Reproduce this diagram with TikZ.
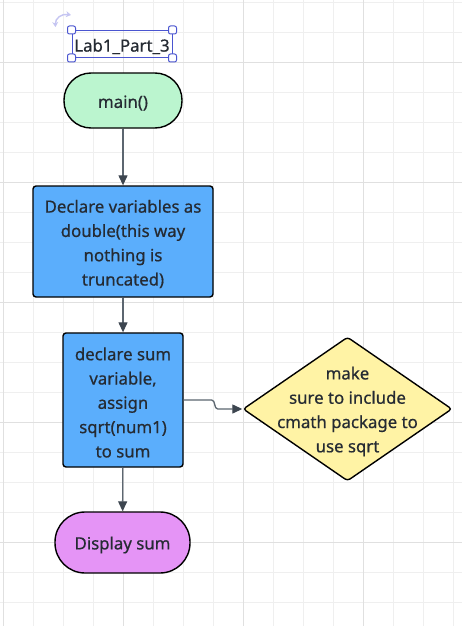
\documentclass[tikz,border=0pt]{standalone}
\usepackage{fontspec}
\setmainfont{Noto Sans}
\newfontfamily\medfont{Noto Sans}[FakeBold=0.6]
\usetikzlibrary{shapes.geometric,arrows.meta}
\definecolor{gridminor}{HTML}{EFEFEF}
\definecolor{gridmajor}{HTML}{E0E0E0}
\definecolor{mintfill}{HTML}{BBF5CF}
\definecolor{bluefill}{HTML}{5BAEFC}
\definecolor{yellowfill}{HTML}{FFF3A5}
\definecolor{purplefill}{HTML}{E594F6}
\definecolor{selblue}{HTML}{4A55D0}
\definecolor{rotlav}{HTML}{C5C5F2}
\definecolor{linegray}{HTML}{5C6670}
\definecolor{tipgray}{HTML}{3D4650}
\definecolor{txt}{HTML}{252B33}
\tikzset{
  lbl/.style={font=\medfont\fontsize{16.8}{24.3}\selectfont, text=txt, align=center, inner sep=0pt},
  inner/.style={lbl, yshift=-2.5pt},
  shapebase/.style={draw=black, line width=1.4pt, inner sep=0pt},
  terminal/.style={shapebase, rounded corners=27pt, minimum width=118pt, minimum height=55pt},
  process/.style={shapebase, fill=bluefill, rounded corners=3pt},
  decision/.style={shapebase, fill=yellowfill, diamond, rounded corners=3pt, minimum width=209pt, minimum height=144pt},
  flow/.style={draw=linegray, line width=1.3pt, -{Triangle[length=10pt,width=9pt,fill=tipgray,color=tipgray]}},
  handle/.style={draw=selblue, fill=white, line width=1pt, rounded corners=2pt, minimum size=8pt, inner sep=0pt},
}
\begin{document}
\begin{tikzpicture}[x=1pt,y=-1pt]
\useasboundingbox (0,0) rectangle (462,626);
\fill[white] (0,0) rectangle (462,626);
% grid
\foreach \gx in {3,33,...,453} \draw[gridminor, line width=0.9pt] (\gx,0) -- (\gx,626);
\foreach \gy in {2,32,...,622} \draw[gridminor, line width=0.9pt] (0,\gy) -- (462,\gy);
\foreach \gx in {3,123,243,363} \draw[gridmajor, line width=0.9pt] (\gx,0) -- (\gx,626);
\foreach \gy in {62,182,302,422,542} \draw[gridmajor, line width=0.9pt] (0,\gy) -- (462,\gy);

% title with selection frame
\node[draw=selblue, line width=1pt, inner sep=0pt, minimum width=100pt, minimum height=27pt] (title) at (122,44) {};
\node[inner] (titletext) at (title.center) {Lab1\_Part\_3};
\node[handle] (h1) at (title.north west) {};
\node[handle] (h2) at (title.north east) {};
\node[handle] (h3) at (title.south west) {};
\node[handle] (h4) at (title.south east) {};
\draw[rotlav, line width=1.4pt, {Stealth[length=5pt,width=6pt]}-{Stealth[length=5pt,width=6pt]}] (55.5,27) .. controls (55,18) and (62,13.5) .. (71,15);

% shapes
\node[terminal, fill=mintfill] (main) at (123,100.5) {};
\node[process, minimum width=180pt, minimum height=111pt] (decl) at (123,241.5) {};
\node[process, minimum width=120pt, minimum height=134pt] (sum) at (123,400) {};
\node[decision] (dia) at (347.5,409) {};
\node[terminal, fill=purplefill, minimum width=135pt, minimum height=61pt, rounded corners=30pt] (disp) at (122.5,542.5) {};

% texts
\node[inner] (maintext) at (main.center) {main()};
\node[inner] (decltext) at (decl.center) {Declare variables as\\double(this way\\nothing is\\truncated)};
\node[inner] (sumtext) at (sum.center) {declare sum\\variable,\\assign\\sqrt(num1)\\to sum};
\node[inner] (diatext) at (dia.center) {make\\sure to include\\cmath package to\\use sqrt};
\node[inner] (disptext) at (disp.center) {Display sum};

% connectors
\draw[flow] (main) -- (decl);
\draw[flow] (decl) -- (sum);
\draw[flow] (sum) -- (disp);
\draw[flow] (sum.east) -- ++(28,0) .. controls ++(4,0) and ++(-4,0) .. ++(6,9) -- (dia.west);
\end{tikzpicture}
\end{document}
